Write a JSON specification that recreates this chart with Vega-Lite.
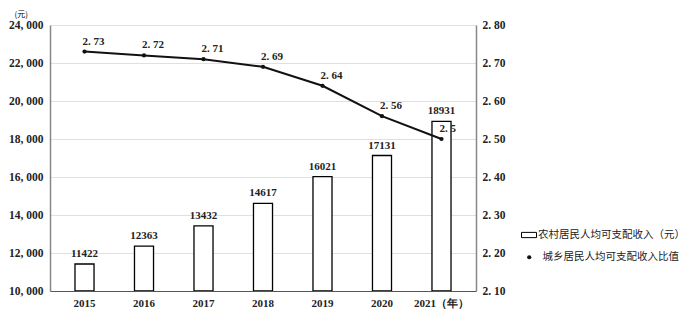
{
  "$schema": "https://vega.github.io/schema/vega-lite/v6.json",
  "width": 426,
  "height": 266,
  "autosize": {"type": "none"},
  "padding": {"left": 50, "top": 25, "right": 212, "bottom": 20},
  "background": "white",
  "config": {"view": {"stroke": null}, "font": "Liberation Serif"},
  "data": {
    "values": [
      {"year": "2015", "income": 11422, "ratio": 2.73},
      {"year": "2016", "income": 12363, "ratio": 2.72},
      {"year": "2017", "income": 13432, "ratio": 2.71},
      {"year": "2018", "income": 14617, "ratio": 2.69},
      {"year": "2019", "income": 16021, "ratio": 2.64},
      {"year": "2020", "income": 17131, "ratio": 2.56},
      {"year": "2021", "income": 18931, "ratio": 2.5}
    ]
  },
  "encoding": {
    "x": {
      "field": "year",
      "type": "nominal",
      "sort": null,
      "scale": {"paddingInner": 0.68, "paddingOuter": 0.42},
      "axis": {
        "title": null,
        "labelAngle": 0,
        "ticks": false,
        "labelPadding": 6,
        "domainColor": "#555",
        "domainWidth": 1.2,
        "labelFont": "Liberation Serif",
        "labelFontWeight": "bold",
        "labelFontSize": 11,
        "labelColor": "#222",
        "labelExpr": "datum.value == '2021' ? '2021（年）' : datum.value"
      }
    }
  },
  "layer": [
    {
      "layer": [
        {
          "mark": {"type": "bar", "stroke": "black", "strokeWidth": 1.3, "clip": true},
          "encoding": {
            "y": {
              "field": "income",
              "type": "quantitative",
              "scale": {"domain": [10000, 24000], "zero": false, "nice": false},
              "axis": {
                "title": "(元)",
                "titleAngle": 0,
                "titleX": -36,
                "titleY": -11,
                "titleAlign": "left",
                "titleBaseline": "middle",
                "titleFont": "Noto Sans CJK SC",
                "titleFontSize": 8,
                "titleFontWeight": "normal",
                "tickCount": 7,
                "labelExpr": "replace(format(datum.value, ','), ',', ', ')",
                "labelFont": "Liberation Serif",
                "labelFontWeight": "bold",
                "labelFontSize": 11.5,
                "labelColor": "#222",
                "labelOverlap": false,
                "ticks": false,
                "labelPadding": 7,
                "domainColor": "#888",
                "domainWidth": 1.5,
                "grid": true,
                "gridColor": "#e0e0e0"
              }
            },
            "y2": {"datum": 10000},
            "fill": {
              "datum": "农村居民人均可支配收入（元）",
              "scale": {"range": ["white"]},
              "legend": {
                "orient": "none",
                "legendX": 471,
                "legendY": 202,
                "title": null,
                "padding": 0,
                "symbolType": "M-1,-0.35H1V0.35H-1Z",
                "symbolSize": 225,
                "symbolFillColor": "white",
                "symbolStrokeColor": "black",
                "symbolStrokeWidth": 1,
                "labelFont": "Noto Sans CJK SC",
                "labelFontSize": 10.5,
                "labelColor": "#222",
                "labelOffset": 1,
                "labelLimit": 200
              }
            }
          }
        },
        {
          "mark": {"type": "text", "baseline": "middle", "dy": -10, "font": "Liberation Serif", "fontWeight": "bold", "fontSize": 11, "color": "#222"},
          "encoding": {
            "y": {"field": "income", "type": "quantitative"},
            "text": {"field": "income", "type": "quantitative", "format": "d"}
          }
        }
      ]
    },
    {
      "layer": [
        {
          "mark": {"type": "line", "color": "#111", "strokeWidth": 2},
          "encoding": {
            "y": {
              "field": "ratio",
              "type": "quantitative",
              "scale": {"domain": [2.1, 2.8], "zero": false, "nice": false},
              "axis": {
                "orient": "right",
                "title": null,
                "grid": false,
                "tickCount": 7,
                "labelExpr": "replace(format(datum.value, '.2f'), '.', '. ')",
                "labelFont": "Liberation Serif",
                "labelFontWeight": "bold",
                "labelFontSize": 11.5,
                "labelColor": "#222",
                "labelOverlap": false,
                "ticks": false,
                "labelPadding": 6,
                "domainColor": "#888",
                "domainWidth": 1.5
              }
            }
          }
        },
        {
          "mark": {"type": "point", "filled": true, "color": "#111", "size": 18, "opacity": 1},
          "encoding": {
            "y": {"field": "ratio", "type": "quantitative"},
            "shape": {
              "datum": "城乡居民人均可支配收入比值",
              "scale": {"range": ["circle"]},
              "legend": {
                "orient": "none",
                "legendX": 474,
                "legendY": 227,
                "title": null,
                "padding": 0,
                "symbolSize": 18,
                "symbolFillColor": "black",
                "symbolStrokeColor": "black",
                "labelFont": "Noto Sans CJK SC",
                "labelFontSize": 10.5,
                "labelColor": "#222",
                "labelOffset": 8,
                "labelLimit": 200
              }
            }
          }
        },
        {
          "transform": [{"calculate": "replace(toString(datum.ratio), '.', '. ')", "as": "lab"}],
          "mark": {"type": "text", "align": "left", "baseline": "middle", "dx": -2, "dy": -10, "font": "Liberation Serif", "fontWeight": "bold", "fontSize": 11, "color": "#222"},
          "encoding": {
            "y": {"field": "ratio", "type": "quantitative"},
            "text": {"field": "lab"}
          }
        }
      ]
    }
  ],
  "resolve": {"scale": {"y": "independent"}}
}
